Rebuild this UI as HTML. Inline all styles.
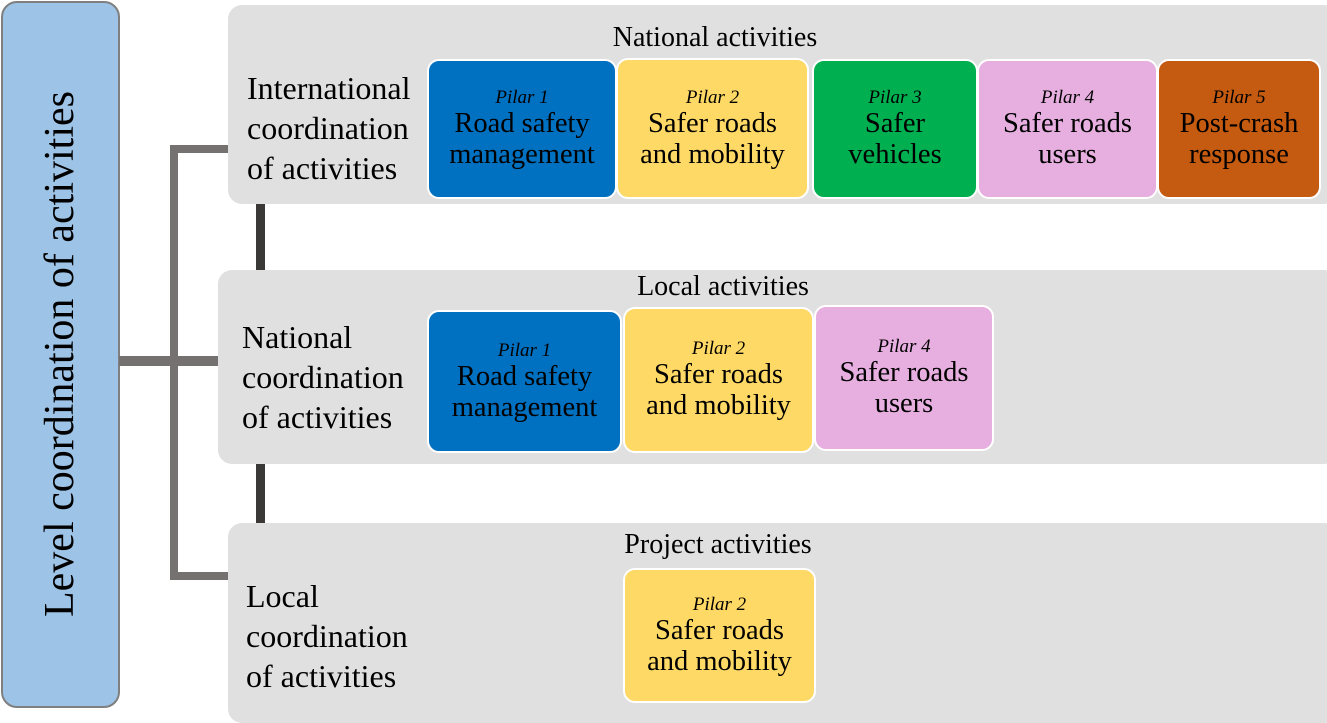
<!DOCTYPE html>
<html><head><meta charset="utf-8"><style>
body{margin:0;width:1327px;height:714px;background:#fff;position:relative;overflow:hidden;font-family:"Liberation Serif","Times New Roman",serif;color:#000}
.a{position:absolute;box-sizing:border-box}
.panel{background:#e0e0e0;border-radius:14px}
.ln{background:#767171}
.dk{background:#3b3838}
.box{border:2px solid #fff;border-radius:12px;display:flex;flex-direction:column;align-items:center;justify-content:center;text-align:center;font-size:28.5px;line-height:31px;white-space:nowrap}
.box i{font-size:19px;line-height:20px}
.lab{font-size:32px;line-height:40px;white-space:nowrap}
.hd{font-size:28px;text-align:center;white-space:nowrap}
</style></head><body>
<div class="a" style="left:1px;top:1px;width:119px;height:707px;background:#9dc3e6;border:2px solid #7f7f7f;border-radius:16px"></div>
<div class="a" style="left:60px;top:354px;width:0;height:0"><div style="position:absolute;left:-350px;top:-26px;width:700px;text-align:center;transform:rotate(-90deg);font-size:42px;line-height:52px;white-space:nowrap">Level coordination of activities</div></div>

<div class="a ln" style="left:170px;top:145px;width:8px;height:435px"></div>
<div class="a ln" style="left:170px;top:145px;width:60px;height:8px"></div>
<div class="a ln" style="left:119px;top:356px;width:101px;height:10px"></div>
<div class="a ln" style="left:170px;top:572px;width:60px;height:8px"></div>
<div class="a dk" style="left:256px;top:200px;width:9px;height:72px"></div>
<div class="a dk" style="left:256px;top:459px;width:9px;height:66px"></div>

<div class="a panel" style="left:228px;top:5px;width:1110px;height:199px"></div>
<div class="a panel" style="left:218px;top:270px;width:1120px;height:194px"></div>
<div class="a panel" style="left:228px;top:523px;width:1110px;height:200px"></div>

<div class="a hd" style="left:565px;top:22px;width:300px">National activities</div>
<div class="a hd" style="left:573px;top:271px;width:300px">Local activities</div>
<div class="a hd" style="left:568px;top:529px;width:300px">Project activities</div>

<div class="a lab" style="left:247px;top:68px">International<br>coordination<br>of activities</div>
<div class="a lab" style="left:242px;top:317px">National<br>coordination<br>of activities</div>
<div class="a lab" style="left:246px;top:576px">Local<br>coordination<br>of activities</div>

<div class="a box" style="left:427px;top:59px;width:190px;height:140px;background:#0070c0"><i>Pilar 1</i>Road safety<br>management</div>
<div class="a box" style="left:616px;top:58px;width:193px;height:141px;background:#ffd966"><i>Pilar 2</i>Safer roads<br>and mobility</div>
<div class="a box" style="left:812px;top:59px;width:166px;height:140px;background:#00b050"><i>Pilar 3</i>Safer<br>vehicles</div>
<div class="a box" style="left:977px;top:59px;width:181px;height:140px;background:#e6afe0"><i>Pilar 4</i>Safer roads<br>users</div>
<div class="a box" style="left:1157px;top:59px;width:164px;height:140px;background:#c55a11"><i>Pilar 5</i>Post-crash<br>response</div>

<div class="a box" style="left:427px;top:310px;width:195px;height:143px;background:#0070c0"><i>Pilar 1</i>Road safety<br>management</div>
<div class="a box" style="left:623px;top:307px;width:191px;height:146px;background:#ffd966"><i>Pilar 2</i>Safer roads<br>and mobility</div>
<div class="a box" style="left:814px;top:305px;width:180px;height:146px;background:#e6afe0"><i>Pilar 4</i>Safer roads<br>users</div>

<div class="a box" style="left:623px;top:568px;width:193px;height:135px;background:#ffd966"><i>Pilar 2</i>Safer roads<br>and mobility</div>
</body></html>
